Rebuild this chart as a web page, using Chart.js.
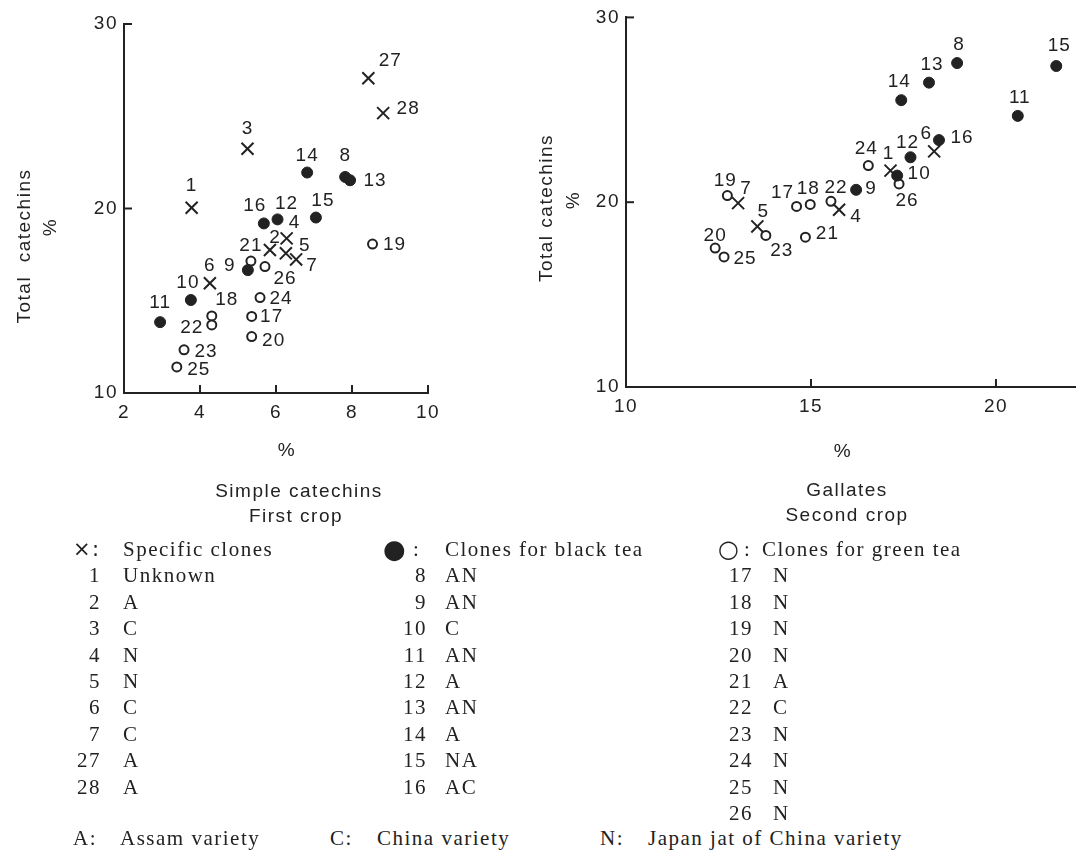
<!DOCTYPE html>
<html>
<head>
<meta charset="utf-8">
<script src="https://cdn.jsdelivr.net/npm/chart.js@4.4.1/dist/chart.umd.min.js"></script>
<style>
    body { margin: 0; background: #fff; width: 1086px; height: 853px; position: relative; overflow: hidden; color: #222; }
    canvas { position: absolute; top: 0; }
    .t { position: absolute; white-space: nowrap; font-family: "Liberation Sans", Arial, sans-serif; font-size: 19px; letter-spacing: 1.5px; transform: translate(-50%, -50%); z-index: 2; }
    .rot { transform: translate(-50%, -50%) rotate(-90deg); }
    .s { position: absolute; white-space: nowrap; font-family: "Liberation Serif", "Times New Roman", serif; font-size: 21px; letter-spacing: 1.5px; z-index: 2; }
</style>
</head>
<body>
<canvas id="firstCrop" width="540" height="540" style="left:0px"></canvas>
<canvas id="secondCrop" width="566" height="540" style="left:520px"></canvas>
<script>
        // First crop: simple catechins (%) vs total catechins (%)
        const firstSpecificIds = [1, 2, 3, 4, 5, 6, 7, 27, 28];
        const firstSpecificX = [3.78, 5.84, 5.25, 6.28, 6.26, 4.26, 6.53, 8.43, 8.82];
        const firstSpecificY = [20.04, 17.75, 23.24, 18.38, 17.57, 15.95, 17.24, 27.06, 25.17];
        const firstBlackIds = [8, 9, 10, 11, 12, 13, 14, 15, 16];
        const firstBlackX = [7.82, 5.26, 3.76, 2.95, 6.04, 7.95, 6.82, 7.05, 5.68];
        const firstBlackY = [21.71, 16.66, 15.04, 13.84, 19.41, 21.53, 21.95, 19.51, 19.19];
        const firstGreenIds = [17, 18, 19, 20, 21, 22, 23, 24, 25, 26];
        const firstGreenX = [5.36, 4.31, 8.54, 5.36, 5.34, 4.31, 3.58, 5.58, 3.39, 5.71];
        const firstGreenY = [14.15, 14.18, 18.07, 13.06, 17.15, 13.69, 12.34, 15.17, 11.41, 16.85];

        // Second crop: gallates (%) vs total catechins (%)
        const secondSpecificIds = [1, 4, 5, 6, 7];
        const secondSpecificX = [17.15, 15.76, 13.55, 18.33, 13.03];
        const secondSpecificY = [21.71, 19.59, 18.69, 22.75, 19.95];
        const secondBlackIds = [8, 9, 10, 11, 12, 13, 14, 15, 16];
        const secondBlackX = [18.95, 16.22, 17.33, 20.59, 17.69, 18.19, 17.44, 21.63, 18.46];
        const secondBlackY = [27.53, 20.67, 21.44, 24.67, 22.43, 26.47, 25.52, 27.37, 23.36];
        const secondGreenIds = [17, 18, 19, 20, 21, 22, 23, 24, 25, 26];
        const secondGreenX = [14.61, 14.98, 12.74, 12.41, 14.85, 15.54, 13.78, 16.55, 12.65, 17.38];
        const secondGreenY = [19.77, 19.88, 20.36, 17.52, 18.11, 20.05, 18.2, 21.98, 17.04, 20.99];

        // Tick values
        const firstXTicks = [2, 4, 6, 8, 10];
        const secondXTicks = [10, 15, 20];
        const yTicks = [10, 20, 30];

        // Legend contents
        const specificOrigin = ['Unknown', 'A', 'C', 'N', 'N', 'C', 'C', 'A', 'A'];
        const blackOrigin = ['AN', 'AN', 'C', 'AN', 'A', 'AN', 'A', 'NA', 'AC'];
        const greenOrigin = ['N', 'N', 'N', 'N', 'A', 'C', 'N', 'N', 'N', 'N'];

        // Label placement next to each point (pixels, dx/dy)
        const firstLabelPos = {
            1: [0, -22], 2: [5, -12], 3: [0, -20], 4: [8, -16], 5: [19, -8], 6: [0, -17], 7: [16, 6],
            27: [22, -17], 28: [25, -4], 8: [0, -21], 9: [-18, -4], 10: [-3, -17], 11: [0, -19],
            12: [9, -16], 13: [25, 0], 14: [0, -17], 15: [7, -17], 16: [-9, -18],
            17: [20, 0], 18: [15, -16], 19: [22, 1], 20: [22, 4], 21: [0, -15], 22: [-20, 3],
            23: [22, 2], 24: [21, 1], 25: [22, 3], 26: [20, 12]
        };
        const secondLabelPos = {
            1: [-2, -17], 4: [17, 7], 5: [6, -15], 6: [-8, -18], 7: [8, -14],
            8: [2, -18], 9: [15, -1], 10: [22, -2], 11: [2, -18], 12: [-3, -15], 13: [3, -18],
            14: [-2, -18], 15: [3, -20], 16: [23, -2],
            17: [-14, -14], 18: [-2, -16], 19: [-2, -15], 20: [0, -12], 21: [22, -3], 22: [5, -14],
            23: [16, 15], 24: [-2, -17], 25: [21, 2], 26: [8, 17]
        };

        const ink = '#222';

        function points(xs, ys) {
            return xs.map((x, i) => ({ x: x, y: ys[i] }));
        }

        // Ticks point into the plot in the original
        const inwardTicks = {
            id: 'inwardTicks',
            beforeDraw(chart) {
                chart.ctx.letterSpacing = '1.5px';
            },
            afterDraw(chart) {
                const ctx = chart.ctx;
                const a = chart.chartArea;
                const xs = chart.scales.x, ys = chart.scales.y;
                ctx.save();
                ctx.strokeStyle = ink;
                ctx.lineWidth = 2;
                xs.ticks.forEach(t => {
                    const px = xs.getPixelForValue(t.value);
                    if (Math.abs(px - a.left) < 2) return;
                    ctx.beginPath();
                    ctx.moveTo(px, a.bottom);
                    ctx.lineTo(px, a.bottom - 8);
                    ctx.stroke();
                });
                ys.ticks.forEach(t => {
                    const py = ys.getPixelForValue(t.value);
                    if (Math.abs(py - a.bottom) < 2) return;
                    ctx.beginPath();
                    ctx.moveTo(a.left, py);
                    ctx.lineTo(a.left + 8, py);
                    ctx.stroke();
                });
                ctx.restore();
            }
        };

        // Clone numbers beside the markers
        const pointLabels = {
            id: 'pointLabels',
            afterDatasetsDraw(chart) {
                const ctx = chart.ctx;
                ctx.save();
                ctx.font = '19px "Liberation Sans", Arial, sans-serif';
                ctx.letterSpacing = '1px';
                ctx.fillStyle = ink;
                ctx.textAlign = 'center';
                ctx.textBaseline = 'middle';
                chart.data.datasets.forEach((ds, di) => {
                    chart.getDatasetMeta(di).data.forEach((el, i) => {
                        const id = ds.ids[i];
                        const off = ds.labelPos[id] || [0, -18];
                        ctx.fillText(String(id), el.x + off[0], el.y + off[1]);
                    });
                });
                ctx.restore();
            }
        };

        function makeChart(canvasId, sets, xMin, xMax, xTicks, labelPos, yWidth, xHeight, pad) {
            const ctx = document.getElementById(canvasId).getContext('2d');
            return new Chart(ctx, {
                type: 'scatter',
                data: {
                    datasets: [
                        {
                            label: 'Specific clones',
                            data: points(sets[0][1], sets[0][2]),
                            ids: sets[0][0],
                            labelPos: labelPos,
                            pointStyle: 'crossRot',
                            pointRadius: 8.5,
                            borderColor: ink,
                            borderWidth: 2
                        },
                        {
                            label: 'Clones for black tea',
                            data: points(sets[1][1], sets[1][2]),
                            ids: sets[1][0],
                            labelPos: labelPos,
                            pointStyle: 'circle',
                            pointRadius: 5.5,
                            backgroundColor: ink,
                            borderColor: ink,
                            borderWidth: 1
                        },
                        {
                            label: 'Clones for green tea',
                            data: points(sets[2][1], sets[2][2]),
                            ids: sets[2][0],
                            labelPos: labelPos,
                            pointStyle: 'circle',
                            pointRadius: 4.5,
                            backgroundColor: '#fff',
                            borderColor: ink,
                            borderWidth: 2
                        }
                    ]
                },
                options: {
                    responsive: false,
                    animation: false,
                    devicePixelRatio: 1,
                    layout: { padding: pad },
                    plugins: {
                        legend: { display: false },
                        tooltip: { enabled: false }
                    },
                    scales: {
                        x: {
                            type: 'linear',
                            min: xMin,
                            max: xMax,
                            afterBuildTicks: scale => { scale.ticks = xTicks.map(v => ({ value: v })); },
                            afterFit: scale => { scale.height = xHeight; },
                            grid: { display: false, drawTicks: false },
                            border: { color: ink, width: 2 },
                            ticks: {
                                color: ink,
                                padding: 8,
                                font: { family: '"Liberation Sans", Arial, sans-serif', size: 19 }
                            }
                        },
                        y: {
                            type: 'linear',
                            min: 10,
                            max: 30,
                            afterBuildTicks: scale => { scale.ticks = yTicks.map(v => ({ value: v })); },
                            afterFit: scale => { scale.width = yWidth; },
                            grid: { display: false, drawTicks: false },
                            border: { color: ink, width: 2 },
                            ticks: {
                                color: ink,
                                padding: 6,
                                font: { family: '"Liberation Sans", Arial, sans-serif', size: 19 }
                            }
                        }
                    }
                },
                plugins: [inwardTicks, pointLabels]
            });
        }

        const firstChart = makeChart('firstCrop', [
            [firstSpecificIds, firstSpecificX, firstSpecificY],
            [firstBlackIds, firstBlackX, firstBlackY],
            [firstGreenIds, firstGreenX, firstGreenY]
        ], 2, 10, firstXTicks, firstLabelPos, 124, 147, { top: 24, right: 112, left: 0, bottom: 0 });

        const secondChart = makeChart('secondCrop', [
            [secondSpecificIds, secondSpecificX, secondSpecificY],
            [secondBlackIds, secondBlackX, secondBlackY],
            [secondGreenIds, secondGreenX, secondGreenY]
        ], 10, 22.15, secondXTicks, secondLabelPos, 106, 153, { top: 15, right: 3, left: 0, bottom: 0 });

        // Axis titles and legend as page text
        function addText(txt, x, y, cls, align) {
            const d = document.createElement('div');
            d.className = cls;
            d.textContent = txt;
            d.style.left = x + 'px';
            d.style.top = y + 'px';
            if (align === 'right') d.style.transform = 'translate(-100%, -50%)';
            if (align === 'left') d.style.transform = 'translate(0, -50%)';
            document.body.appendChild(d);
            return d;
        }

        addText('Total\u00a0\u00a0catechins', 24, 246, 't rot');
        addText('%', 50, 227, 't rot');
        addText('%', 287, 450, 't');
        addText('Simple catechins', 299, 491, 't');
        addText('First crop', 296, 516, 't');

        addText('Total catechins', 546, 208, 't rot');
        addText('%', 573, 200, 't rot');
        addText('%', 843, 451, 't');
        addText('Gallates', 847, 490, 't');
        addText('Second crop', 847, 515, 't');

        const rowTop = 549, rowStep = 26.4;

        addText('\u00d7:', 73, rowTop, 's', 'left').style.fontFamily = '"DejaVu Sans", sans-serif';
        addText('Specific clones', 123, rowTop, 's', 'left');
        firstSpecificIds.forEach((id, i) => {
            addText(String(id), 101, rowTop + rowStep * (i + 1), 's', 'right');
            addText(specificOrigin[i], 123, rowTop + rowStep * (i + 1), 's', 'left');
        });

        const dot = addText('\u25cf', 383, rowTop, 's', 'left');
        dot.style.fontSize = '26px';
        dot.style.fontFamily = '"DejaVu Sans", sans-serif';
        addText(':', 413, rowTop, 's', 'left');
        addText('Clones for black tea', 445, rowTop, 's', 'left');
        firstBlackIds.forEach((id, i) => {
            addText(String(id), 427, rowTop + rowStep * (i + 1), 's', 'right');
            addText(blackOrigin[i], 445, rowTop + rowStep * (i + 1), 's', 'left');
        });

        const ring = addText('\u25cb', 718, rowTop, 's', 'left');
        ring.style.fontSize = '24px';
        ring.style.fontFamily = '"DejaVu Sans", sans-serif';
        addText(':', 744, rowTop, 's', 'left');
        addText('Clones for green tea', 762, rowTop, 's', 'left');
        firstGreenIds.forEach((id, i) => {
            addText(String(id), 753, rowTop + rowStep * (i + 1), 's', 'right');
            addText(greenOrigin[i], 773, rowTop + rowStep * (i + 1), 's', 'left');
        });

        const footY = 838;
        addText('A:', 73, footY, 's', 'left');
        addText('Assam variety', 120, footY, 's', 'left');
        addText('C:', 330, footY, 's', 'left');
        addText('China variety', 377, footY, 's', 'left');
        addText('N:', 600, footY, 's', 'left');
        addText('Japan jat of China variety', 648, footY, 's', 'left');
</script>
</body>
</html>
